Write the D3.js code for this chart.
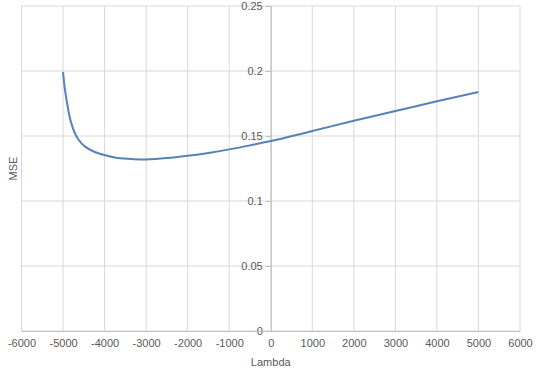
<!DOCTYPE html>
<html><head><meta charset="utf-8">
<script src="https://cdn.jsdelivr.net/npm/d3@7"></script>
<style>body{margin:0;background:#fff;}svg{display:block;}</style>
</head><body>
<script>
const lambdaVals = [-5000,-4959,-4896,-4815,-4718,-4639,-4478,-4237,-3917,-3676,-3300,-3000,-2500,-2000,-1500,-1000,-500,0,1000,2000,3000,4000,5000];
const mseVals = [0.1992,0.1869,0.1740,0.1613,0.1523,0.1477,0.1420,0.1377,0.1346,0.1330,0.1322,0.1320,0.1330,0.1348,0.1370,0.1397,0.1428,0.1461,0.1538,0.1618,0.1692,0.1767,0.1838];
const xTicks = [-6000,-5000,-4000,-3000,-2000,-1000,0,1000,2000,3000,4000,5000,6000];
const yTicks = [0,0.05,0.1,0.15,0.2,0.25];

const W=540,H=379;
const svg=d3.select("body").append("svg").attr("width",W).attr("height",H);
const x=d3.scaleLinear().domain([-6000,6000]).range([21.5,520]);
const y=d3.scaleLinear().domain([0,0.25]).range([331,6]);
const font="Liberation Sans, Arial, sans-serif";
const txt="#595959";

// gridlines
svg.append("g").selectAll("line").data(xTicks).join("line")
  .attr("x1",d=>x(d)).attr("x2",d=>x(d)).attr("y1",y(0.25)).attr("y2",y(0))
  .attr("stroke","#d9d9d9").attr("stroke-width",1);
svg.append("g").selectAll("line").data(yTicks).join("line")
  .attr("x1",x(-6000)).attr("x2",x(6000)).attr("y1",d=>y(d)).attr("y2",d=>y(d))
  .attr("stroke","#d9d9d9").attr("stroke-width",1);

// y axis at x=0
const yAxis=d3.axisLeft(y).tickValues(yTicks).tickSize(5).tickPadding(3).tickFormat(d=>String(d));
const gy=svg.append("g").attr("transform",`translate(${x(0)},0)`).call(yAxis);
gy.select(".domain").attr("stroke","#bfbfbf");
gy.selectAll(".tick line").attr("stroke","#bfbfbf");
gy.selectAll("text").attr("fill",txt).style("font-family",font).style("font-size","11px");

// x axis at y=0
const xAxis=d3.axisBottom(x).tickValues(xTicks).tickSize(0).tickPadding(8).tickFormat(d=>String(d));
const gx=svg.append("g").attr("transform",`translate(0,${y(0)})`).call(xAxis);
gx.select(".domain").attr("stroke","#bfbfbf");
gx.selectAll("text").attr("fill",txt).style("font-family",font).style("font-size","11px");

// line
const data=lambdaVals.map((l,i)=>({l,m:mseVals[i]}));
svg.append("path").datum(data)
  .attr("d",d3.line().x(d=>x(d.l)).y(d=>y(d.m)).curve(d3.curveCatmullRom.alpha(0.5)))
  .attr("fill","none").attr("stroke","#5582b8").attr("stroke-width",2);

// axis titles
svg.append("text").attr("x",x(0)).attr("y",366).attr("text-anchor","middle")
  .attr("fill",txt).style("font-family",font).style("font-size","11px").text("Lambda");
svg.append("text").attr("transform",`translate(17,${(y(0)+y(0.25))/2}) rotate(-90)`).attr("text-anchor","middle")
  .attr("fill",txt).style("font-family",font).style("font-size","11px").text("MSE");
</script>
</body></html>
